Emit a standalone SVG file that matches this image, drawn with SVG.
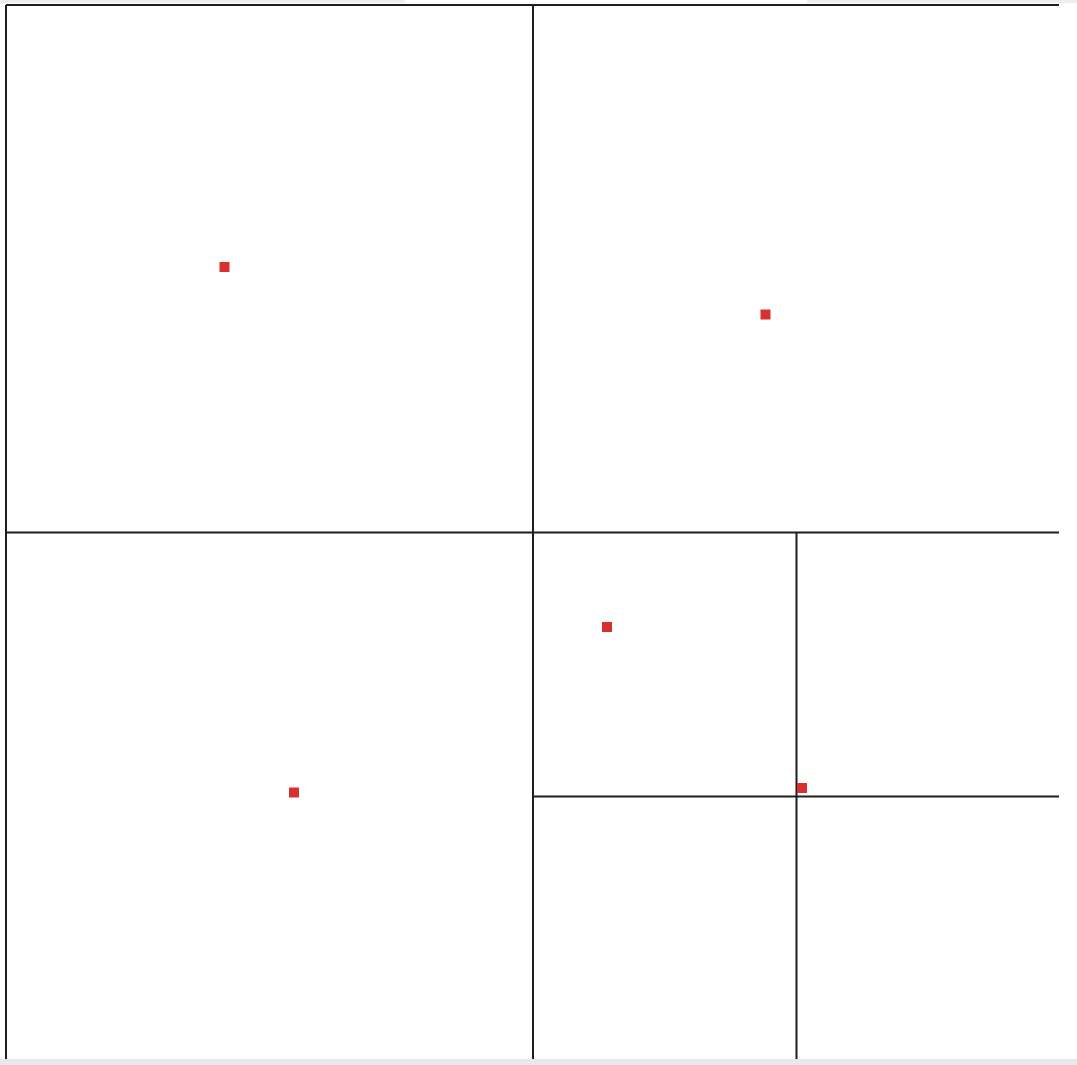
<svg xmlns="http://www.w3.org/2000/svg" width="1077" height="1065" viewBox="0 0 1077 1065">
<style>
.ln{stroke:#1e1e1e;stroke-width:2;fill:none}
.pt{fill:#d8302c}
</style>
<rect width="1077" height="1065" fill="#ffffff"/>
<rect x="0" y="0" width="405" height="3" fill="#eeeeef"/>
<rect x="807" y="0" width="270" height="3" fill="#eeeeef"/>
<rect x="0" y="1059" width="1077" height="6" fill="#e9e9eb"/>
<g id="grid">
<line class="ln" x1="6" y1="5" x2="1059" y2="5"/>
<line class="ln" x1="6" y1="5" x2="6" y2="1059"/>
<line class="ln" x1="533" y1="5" x2="533" y2="1059"/>
<line class="ln" x1="6" y1="532.5" x2="1059" y2="532.5"/>
<line class="ln" x1="796.5" y1="532.5" x2="796.5" y2="1059"/>
<line class="ln" x1="533" y1="796.5" x2="1059" y2="796.5"/>
</g>
<g id="points">
<rect class="pt" x="219.5" y="262" width="10" height="10"/>
<rect class="pt" x="760.5" y="309.5" width="10" height="10"/>
<rect class="pt" x="602" y="622" width="10" height="10"/>
<rect class="pt" x="289" y="787.5" width="10" height="10"/>
<rect class="pt" x="797" y="783" width="10" height="10"/>
</g>
</svg>
